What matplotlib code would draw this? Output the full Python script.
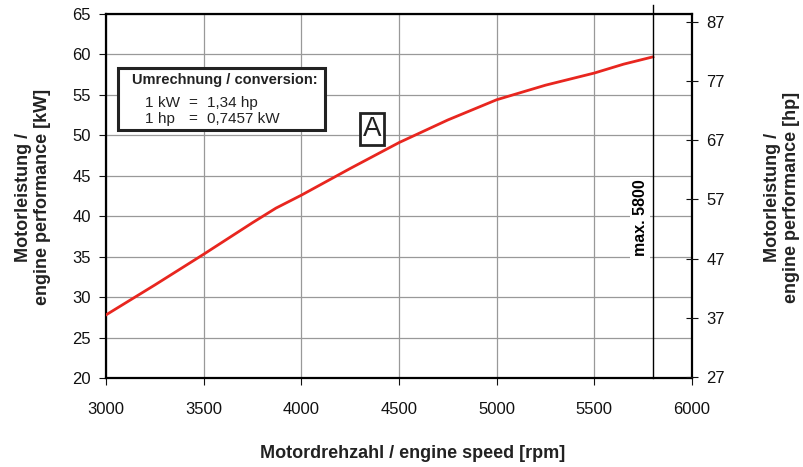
import matplotlib
matplotlib.use("Agg")
import matplotlib.pyplot as plt
from matplotlib.patches import Rectangle

plt.rcParams['font.family'] = ['Liberation Sans', 'DejaVu Sans']

rpm = [3000, 3250, 3500, 3750, 3870, 4000, 4250, 4500, 4750, 5000, 5250, 5500, 5650, 5800]
kw = [27.8, 31.5, 35.3, 39.2, 41.0, 42.6, 45.9, 49.1, 51.9, 54.4, 56.2, 57.7, 58.8, 59.7]

xticks = [3000, 3500, 4000, 4500, 5000, 5500, 6000]
yticks = [20, 25, 30, 35, 40, 45, 50, 55, 60, 65]
hp_ticks = [27, 37, 47, 57, 67, 77, 87]
hp_limits = (26.83, 88.35)
max_rpm = 5800

W, H = 804, 467
fig = plt.figure(figsize=(W / 100, H / 100), dpi=100)
ax = fig.add_axes([106/W, 1-378/H, (692-106)/W, (378-14)/H])
ax.set_xlim(3000, 6000)
ax.set_ylim(20, 65)
ax.set_xticks(xticks)
ax.set_yticks(yticks)
ax.grid(True, color='#999999', linewidth=0.9)
ax.set_axisbelow(True)
for s in ax.spines.values():
    s.set_linewidth(1.6)
ax.tick_params(axis='both', labelsize=12, length=5, width=0.8, direction='out', colors='#111111')
ax.tick_params(axis='x', pad=12)
ax.tick_params(axis='y', pad=6)

ax.plot(rpm, kw, color='#e8261f', linewidth=2.0, zorder=3)
ax.plot([max_rpm, max_rpm], [20, 66.1], color='black', linewidth=1.0, clip_on=False, zorder=4)
ax.text(5735, 39.8, 'max. 5800', rotation=90, ha='center', va='center', fontsize=11.5,
        fontweight='bold', bbox=dict(facecolor='white', edgecolor='none', pad=2), zorder=3)

# conversion box
ax.add_patch(Rectangle((3061, 50.66), 4121 - 3061, 58.33 - 50.66, facecolor='white',
                       edgecolor='#222222', linewidth=2.2, zorder=5))
tc = '#222222'
ax.text(3133, 56.84, 'Umrechnung / conversion:', fontsize=10.5, fontweight='bold',
        ha='left', va='center', color=tc, zorder=6)
for yy, unit, val in [(54.0, 'kW', '1,34 hp'), (52.02, 'hp', '0,7457 kW')]:
    ax.text(3200, yy, '1', fontsize=11, ha='left', va='center', color=tc, zorder=6)
    ax.text(3266, yy, unit, fontsize=11, ha='left', va='center', color=tc, zorder=6)
    ax.text(3420, yy, '=', fontsize=11, ha='left', va='center', color=tc, zorder=6)
    ax.text(3517, yy, val, fontsize=11, ha='left', va='center', color=tc, zorder=6)

ax.text(4362, 50.8, 'A', fontsize=20, ha='center', va='center', color=tc,
        bbox=dict(facecolor='white', edgecolor='#222222', linewidth=2.0, boxstyle='square,pad=0.1'),
        zorder=5)

ax2 = ax.twinx()
ax2.set_ylim(*hp_limits)
ax2.set_yticks(hp_ticks)
ax2.tick_params(axis='y', labelsize=12, length=9, width=0.8, direction='inout', pad=6, colors='#111111')
for s in ax2.spines.values():
    s.set_visible(False)

lab = dict(fontsize=13, fontweight='bold', color='#222222', ha='center', va='center',
           multialignment='center', linespacing=1.15)
fig.text(413/W, 1-453/H, 'Motordrehzahl / engine speed [rpm]', **lab)
fig.text(33/W, 1-197/H, 'Motorleistung /\nengine performance [kW]', rotation=90, **lab)
fig.text(782/W, 1-197/H, 'Motorleistung /\nengine performance [hp]', rotation=90, **lab)

fig.savefig('out.png', dpi=100)
